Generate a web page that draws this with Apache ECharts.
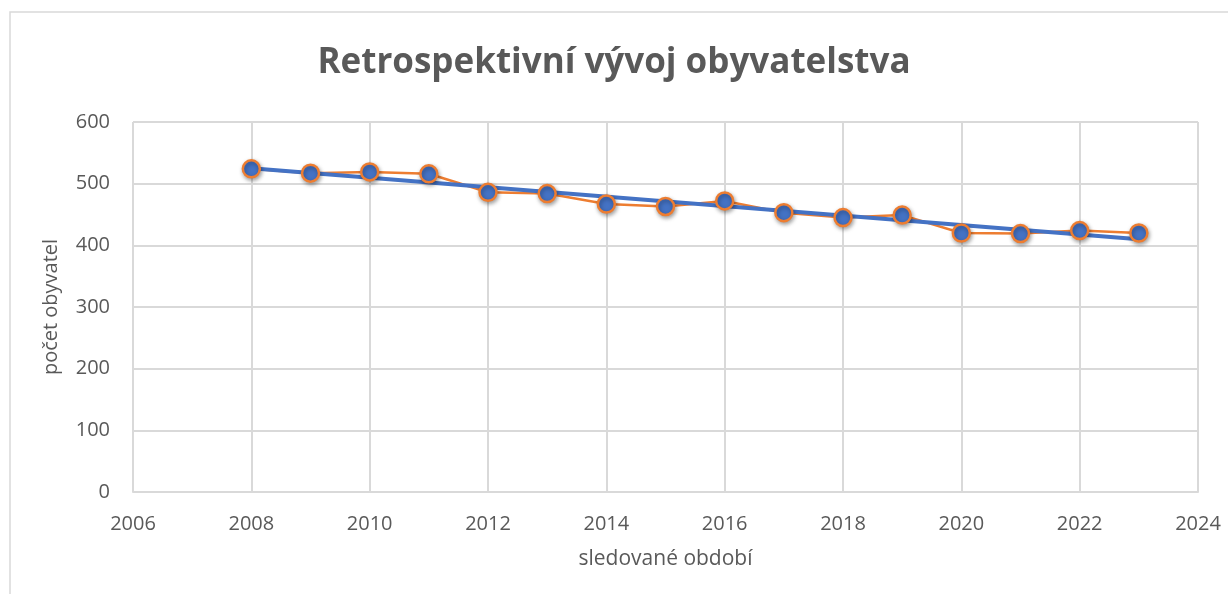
<!DOCTYPE html>
<html><head><meta charset="utf-8">
<script src="https://cdn.jsdelivr.net/npm/echarts@6/dist/echarts.min.js"></script>
<style>html,body{margin:0;padding:0;background:#fff}#c{width:1228px;height:594px}</style>
</head><body><div id="c"></div>
<script>
const years = [2008,2009,2010,2011,2012,2013,2014,2015,2016,2017,2018,2019,2020,2021,2022,2023];
const population = [524,517,519,516,486,484,467,463,472,453,445,449,420,419,424,420];
const trendYears = [2008,2023];
const trendValues = [525,410];
const xTicks = [2006,2024,2];
const yTicks = [0,600,100];

const pts = years.map((y,i)=>[y,population[i]]);
const trend = trendYears.map((y,i)=>[y,trendValues[i]]);
const txt = '#595959', font = '"Open Sans", "Liberation Sans", sans-serif';
const chart = echarts.init(document.getElementById('c'), null, {renderer:'canvas'});
chart.setOption({
  animation:false,
  backgroundColor:'#fff',
  title:{text:'Retrospektivní vývoj obyvatelstva', left:'center', top:41,
    textStyle:{fontFamily:font, fontSize:35, fontWeight:'bold', color:txt}},
  graphic:[{type:'rect', shape:{x:10,y:12,width:1240,height:600}, style:{fill:'none', stroke:'#d9d9d9', lineWidth:1.5}, silent:true}],
  grid:{left:133, right:30, top:122, bottom:102},
  xAxis:{type:'value', min:xTicks[0], max:xTicks[1], interval:xTicks[2],
    name:'sledované období', nameLocation:'middle', nameGap:57,
    nameTextStyle:{fontFamily:font, fontSize:21, color:txt},
    axisLine:{show:true, lineStyle:{color:'#d9d9d9', width:2}},
    axisTick:{show:false},
    axisLabel:{fontFamily:font, fontSize:20, color:txt, margin:22, formatter:v=>String(v)},
    splitLine:{show:true, lineStyle:{color:'#d9d9d9', width:2}}},
  yAxis:{type:'value', min:yTicks[0], max:yTicks[1], interval:yTicks[2],
    name:'počet obyvatel', nameLocation:'middle', nameGap:72,
    nameTextStyle:{fontFamily:font, fontSize:20, color:txt},
    axisLine:{show:false}, axisTick:{show:false},
    axisLabel:{fontFamily:font, fontSize:20, color:txt, margin:23},
    splitLine:{show:true, lineStyle:{color:'#d9d9d9', width:2}}},
  series:[
    {type:'line', data:pts, showSymbol:false, symbol:'none', z:1,
      lineStyle:{color:'#ED7D31', width:2.5}},
    {type:'line', data:trend, showSymbol:false, symbol:'none', z:2,
      lineStyle:{color:'#4472C4', width:4}},
    {type:'scatter', data:pts, symbol:'circle', symbolSize:17, z:3,
      itemStyle:{color:'#4472C4', opacity:1, borderColor:'#ED7D31', borderWidth:2.5,
        shadowColor:'rgba(0,0,0,0.35)', shadowBlur:4, shadowOffsetX:1, shadowOffsetY:2}}
  ]
});
</script></body></html>
